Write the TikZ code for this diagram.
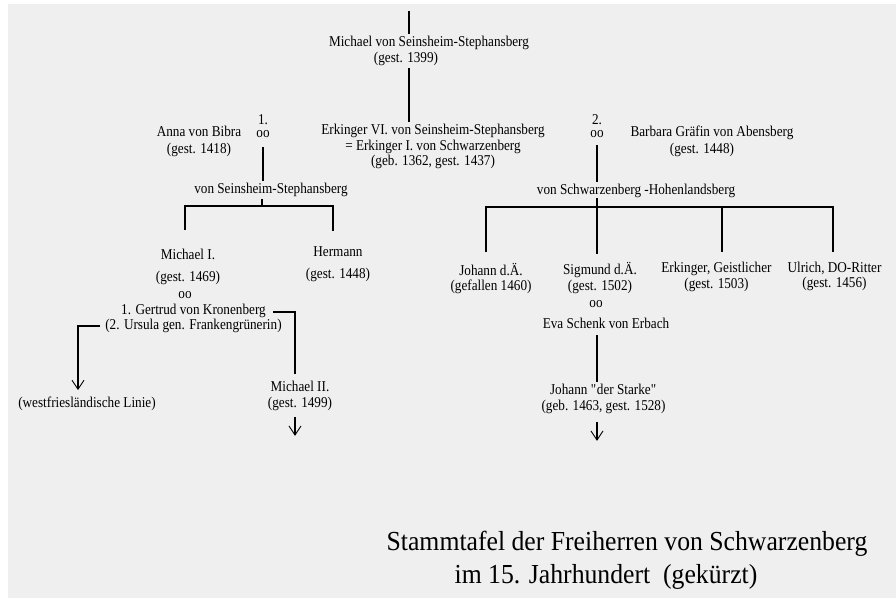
\documentclass[tikz,border=0pt]{standalone}
\usepackage{fontspec}
\setmainfont{Liberation Serif}[FakeStretch=0.88]
\newfontfamily\titlefont{Liberation Serif}[FakeStretch=0.935]
\usetikzlibrary{arrows.meta}
\definecolor{paper}{RGB}{239,239,239}

\begin{document}
\begin{tikzpicture}[
    x=1pt, y=-1pt,
    person/.style={
        inner sep=2pt,
        align=center,
        font=\fontsize{15}{15.5}\selectfont
    },
    wideperson/.style={
        person,
        font=\fontsize{15}{22}\selectfont
    },
    titletext/.style={
        inner sep=0pt,
        anchor=base,
        font=\titlefont\fontsize{27.5}{33}\selectfont
    },
    link/.style={line width=1.4pt, draw=black},
    descent/.style={link, -{Straight Barb[length=9pt, width=12pt, line width=0.9pt]}}
]
    % --- PAPER ---
    \fill[white] (0,0) rectangle (896,598);
    \fill[paper] (8,4) rectangle (896,598);

    % --- ROOT ---
    \coordinate (root) at (409,11);
    \node[person] (michael) at (429,43) {Michael von Seinsheim-Stephansberg};
    \node[person] (michaeldate) at (406,59) {(gest. 1399)};
    \node[person] (erkinger) at (433,146.5) {Erkinger VI. von Seinsheim-Stephansberg\\= Erkinger I. von Schwarzenberg\\(geb. 1362, gest. 1437)};

    \draw[link] (root) -- (root |- michael.north);
    \draw[link] (root |- michaeldate.south) -- (root |- erkinger.north) -- ++(0,-6);

    % --- FIRST MARRIAGE ---
    \node[person] (anna) at (199,141.5) {Anna von Bibra\\[1.5pt](gest. 1418)};
    \node[person, inner sep=0pt] (marr1num) at (263,120) {1.};
    \node[person, inner sep=0pt] (marr1) at (263,134) {oo};
    \node[person] (vonss) at (271,190) {von Seinsheim-Stephansberg};
    \coordinate (br1) at (262,206);
    \coordinate (ssleft) at (185,230);
    \coordinate (ssright) at (333,231);

    \draw[link] (marr1.south) ++(0,9) -- (marr1.south |- vonss.north);
    \draw[link] (br1 |- vonss.south) -- (br1);
    \draw[link] (ssleft) |- (br1) -| (ssright);

    \node[wideperson] (michaelI) at (188,267) {Michael I.\\(gest. 1469)};
    \node[person] (oo3) at (185,295) {oo};
    \node[person] (gertrud) at (193.5,318.5) {1. Gertrud von Kronenberg\\(2. Ursula gen. Frankengrünerin)};
    \node[wideperson] (hermann) at (338,264) {Hermann\\(gest. 1448)};

    \node[person] (michaelII) at (300,396) {Michael II.\\(gest. 1499)};
    \node[person] (westfr) at (87,404) {(westfriesländische Linie)};
    \coordinate (gerI) at (273,312);
    \coordinate (mIIleg) at (295,374);
    \coordinate (gerII) at (100,326);
    \coordinate (westtip) at (78,390);

    \draw[link] (gerI) -| (mIIleg);
    \draw[descent] (gerII) -| (westtip);
    \draw[descent] (mIIleg |- michaelII.south) ++(0,4) -- ++(0,19);

    % --- SECOND MARRIAGE ---
    \node[person, inner sep=0pt] (marr2num) at (597,119.5) {2.};
    \node[person, inner sep=0pt] (marr2) at (597,134) {oo};
    \node[person] (barbara) at (712,133) {Barbara Gräfin von Abensberg};
    \node[person] (barbaradate) at (702,150) {(gest. 1448)};
    \node[person] (vonsh) at (636,191) {von Schwarzenberg -Hohenlandsberg};
    \coordinate (br2) at (597,207);
    \coordinate (jleg) at (486,252);
    \coordinate (sleg) at (597,254);
    \coordinate (eleg) at (722,252);
    \coordinate (uleg) at (833,252);

    \draw[link] (marr2.south) ++(0,7) -- (marr2.south |- vonsh.north);
    \draw[link] (sleg |- vonsh.south) ++(0,-2) -- (sleg);
    \draw[link] (jleg) |- (br2) -| (uleg);
    \draw[link] (eleg |- br2) -- (eleg);

    \node[person] (johann) at (491,278.5) {Johann d.Ä.\\(gefallen 1460)};
    \node[person] (sigmund) at (600,278) {Sigmund d.Ä.\\(gest. 1502)};
    \node[person] (oo4) at (596,304) {oo};
    \node[person] (eva) at (606,323) {Eva Schenk von Erbach};
    \node[person] (erkingerg) at (716.5,277) {Erkinger, Geistlicher\\(gest. 1503)};
    \node[person] (ulrich) at (834.5,276.5) {Ulrich, DO-Ritter\\(gest. 1456)};

    \node[person] (starke) at (603.5,399) {Johann \textquotedbl der Starke\textquotedbl\\(geb. 1463, gest. 1528)};
    \draw[link] (br2 |- eva.south) ++(0,5) -- (br2 |- starke.north);
    \draw[descent] (br2 |- starke.south) ++(0,6) -- ++(0,19);

    % --- TITLE ---
    \node[titletext] (title) at (627,550) {Stammtafel der Freiherren von Schwarzenberg};
    \node[titletext] (subtitle) at (606,583) {im 15. Jahrhundert\ \ (gekürzt)};
\end{tikzpicture}
\end{document}
